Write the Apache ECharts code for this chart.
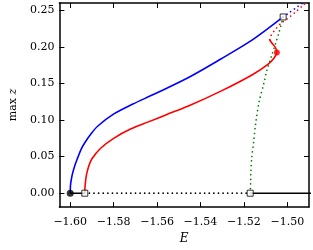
<!DOCTYPE html>
<html>
<head>
<meta charset="utf-8">
<script src="https://cdn.jsdelivr.net/npm/echarts@6/dist/echarts.min.js"></script>
<style>
html,body{margin:0;padding:0;background:#fff;}
#c{width:313px;height:250px;}
</style>
</head>
<body>
<div id="c"></div>
<script>
// ---- data ----
const xTicks = [-1.60, -1.58, -1.56, -1.54, -1.52, -1.50];
const yTicks = [0.00, 0.05, 0.10, 0.15, 0.20, 0.25];

const blueSolid = [[-1.6000,0],[-1.59995,0.007],[-1.5998,0.013],[-1.5991,0.025],[-1.5980,0.037],[-1.5965,0.049],[-1.5950,0.060],[-1.5933,0.069],[-1.5904,0.0812],[-1.5874,0.0915],[-1.5801,0.1080],[-1.5714,0.1215],[-1.5612,0.1355],[-1.5453,0.1585],[-1.5306,0.1835],[-1.5161,0.2095],[-1.5019,0.2409]];
const blueDotted = [[-1.5019,0.2409],[-1.4990,0.2470],[-1.4955,0.2545],[-1.4920,0.2620],[-1.4885,0.2700]];

const redSolid = [[-1.5933,0],[-1.59325,0.006],[-1.5931,0.012],[-1.5926,0.024],[-1.5915,0.037],[-1.5900,0.047],[-1.5860,0.0615],[-1.5800,0.0750],[-1.5720,0.0880],[-1.5640,0.0975],[-1.5560,0.1070],[-1.5453,0.1195],[-1.5306,0.1395],[-1.5161,0.1620],[-1.5088,0.1765],[-1.5059,0.1855],[-1.5048,0.1925]];
const redFold = [[-1.5048,0.1925],[-1.5052,0.1975],[-1.5062,0.2020],[-1.5073,0.2060],[-1.5081,0.2098]];
const redDotted = [[-1.5081,0.2098],[-1.5074,0.2160],[-1.5055,0.2240],[-1.5030,0.2320],[-1.5000,0.2385],[-1.4965,0.2470],[-1.4925,0.2575],[-1.4885,0.2680]];

const greenDotted = [[-1.5171,0],[-1.5169,0.0135],[-1.5168,0.0271],[-1.5164,0.0474],[-1.5155,0.0700],[-1.5146,0.0947],[-1.5129,0.1263],[-1.5109,0.1489],[-1.5095,0.1669],[-1.5073,0.1872],[-1.5051,0.2075],[-1.5037,0.2210],[-1.5019,0.2409]];

const blackSolidA = [[-1.6000,0],[-1.5933,0]];
const blackDotted = [[-1.5933,0],[-1.5171,0]];
const blackSolidB = [[-1.5171,0],[-1.4800,0]];

const blackDot = [[-1.6000,0]];
const squares = [[-1.5933,0],[-1.5171,0],[-1.5019,0.2409]];
const redDot = [[-1.5048,0.1925]];

// ---- chart ----
const FONT = 'DejaVu Serif';
const fmt = v => (v < 0 ? '\u2212' : '') + Math.abs(v).toFixed(2);
const frame = {lineStyle:{color:'#000', width:1.5}};
const tickStyle = {inside:true, length:5, lineStyle:{color:'#000', width:1}};

function xAx(pos, labels){
  return {type:'value', position:pos, min:-1.605, max:-1.49,
    splitLine:{show:false}, axisLine:Object.assign({show:true, onZero:false}, frame),
    axisTick:Object.assign({customValues:xTicks}, tickStyle),
    axisLabel:{show:labels, customValues:xTicks, formatter:fmt, color:'#000', fontFamily:FONT, fontSize:11, margin:10},
    name: labels ? 'E' : '', nameLocation:'middle', nameGap:21,
    nameTextStyle:{fontFamily:FONT, fontStyle:'italic', fontSize:12, color:'#000'}};
}
function yAx(pos, labels){
  return {type:'value', position:pos, min:-0.019, max:0.26,
    splitLine:{show:false}, axisLine:Object.assign({show:true, onZero:false}, frame),
    axisTick:Object.assign({customValues:yTicks}, tickStyle),
    axisLabel:{show:labels, customValues:yTicks, formatter:fmt, color:'#000', fontFamily:FONT, fontSize:11, margin:5},
    name: labels ? '{a|max }{b|z}' : '', nameLocation:'middle', nameGap:33, nameRotate:90,
    nameTextStyle:{rich:{a:{fontFamily:FONT, fontSize:11, color:'#000'}, b:{fontFamily:FONT, fontStyle:'italic', fontSize:11, color:'#000'}}}};
}
function line(data, color, dotted, sm){
  return {type:'line', data:data, showSymbol:false, symbol:'none', smooth: sm || false, z:2, silent:true,
    lineStyle:{color:color, width: dotted ? 1.7 : 1.6, type: dotted ? [0.01, 4.6] : 'solid', cap: dotted ? 'round':'butt'}};
}

const chart = echarts.init(document.getElementById('c'), null, {renderer:'canvas'});
chart.setOption({
  animation:false,
  grid:{left:47, right:4, top:3, bottom:41, containLabel:false},
  xAxis:[xAx('bottom', true), xAx('top', false)],
  yAxis:[yAx('left', true), yAx('right', false)],
  series:[
    line(blackSolidA, '#000', false),
    line(blackDotted, '#000', true),
    line(blackSolidB, '#000', false),
    line(blueSolid, '#0000ff', false, 0.3),
    line(blueDotted, '#0000ff', true, 0.3),
    line(redSolid, '#ff0000', false, 0.3),
    line(redFold, '#ff0000', false, 0.3),
    line(redDotted, '#ff0000', true, 0.3),
    line(greenDotted, '#008000', true, 0.3),
    {type:'scatter', data:blackDot, symbol:'circle', symbolSize:7, z:5, silent:true, itemStyle:{color:'#000'}},
    {type:'scatter', data:redDot, symbol:'circle', symbolSize:6, z:5, silent:true, itemStyle:{color:'#ff0000'}},
    {type:'scatter', data:squares, symbol:'rect', symbolSize:6, z:6, silent:true, itemStyle:{color:'#fff', borderColor:'#000', borderWidth:1}}
  ]
});
</script>
</body>
</html>
